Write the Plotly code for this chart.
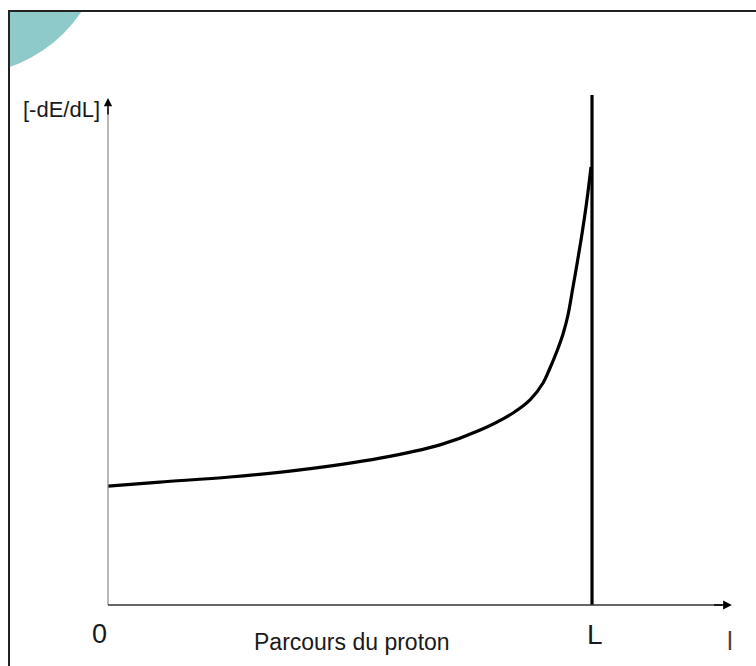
import plotly.graph_objects as go

# ---- data: Bragg curve (x in units of the range L, y = relative stopping power)
x_dist = [0.0, 0.107, 0.252, 0.397, 0.562, 0.686, 0.769, 0.8368, 0.8719, 0.8988,
          0.9132, 0.9277, 0.9401, 0.9504, 0.9607, 0.9690, 0.9773, 0.9855, 0.9917, 0.9979]
y_loss = [0.233, 0.241, 0.251, 0.265, 0.288, 0.314, 0.343, 0.3765, 0.4020, 0.4353,
          0.4647, 0.4980, 0.5314, 0.5686, 0.6235, 0.6686, 0.7157, 0.7667, 0.8098, 0.8588]

L_pos = 1.0          # position of the range L on the x axis
L_line_top = 1.0     # height of the vertical line at L
x_axis_end = 1.289   # tip of the x-axis arrow
y_axis_end = 0.994   # tip of the y-axis arrow

y_label = "[-dE/dL]"
x_label = "Parcours du proton"
origin_label = "0"
L_label = "L"
end_label = "l"

W, H = 756, 666
x_range = [-0.2231, 1.3388]
y_range = [-0.1196, 1.1863]

FONT = "Liberation Sans Narrow, Arial Narrow, Liberation Sans, Arial, sans-serif"
TXT = "#1a1a1a"

fig = go.Figure()

fig.add_trace(go.Scatter(x=x_dist, y=y_loss, mode="lines",
                         line=dict(color="black", width=3.2, shape="spline", smoothing=1.0),
                         hoverinfo="skip", showlegend=False))
fig.add_trace(go.Scatter(x=[L_pos, L_pos], y=[0, L_line_top], mode="lines",
                         line=dict(color="black", width=3.2),
                         hoverinfo="skip", showlegend=False))

def px(v):
    return v / W

def py(v):
    return 1 - v / H

shapes = [
    # teal circle in the corner
    dict(type="circle", xref="paper", yref="paper",
         x0=px(-174.3), x1=px(104.3), y0=py(74.3), y1=py(-204.3),
         fillcolor="#8fcaca", line=dict(width=0), layer="below"),
    # white covers outside the frame
    dict(type="rect", xref="paper", yref="paper", x0=-0.1, x1=px(9), y0=-0.1, y1=1.2,
         fillcolor="white", line=dict(width=0)),
    dict(type="rect", xref="paper", yref="paper", x0=-0.1, x1=1.1, y0=py(11), y1=1.2,
         fillcolor="white", line=dict(width=0)),
    # frame
    dict(type="line", xref="paper", yref="paper", x0=px(9), x1=px(9), y0=-0.01, y1=py(11),
         line=dict(color="#222", width=2)),
    dict(type="line", xref="paper", yref="paper", x0=px(8), x1=1.01, y0=py(11), y1=py(11),
         line=dict(color="#222", width=2)),
    # axes
    dict(type="line", xref="x", yref="y", x0=0, x1=0, y0=0, y1=y_axis_end - 0.02,
         line=dict(color="#8a8a8a", width=1.2)),
    dict(type="line", xref="x", yref="y", x0=0, x1=x_axis_end - 0.02, y0=0, y1=0,
         line=dict(color="#333", width=1.6)),
]

annotations = [
    dict(x=0, y=y_axis_end, ax=0, ay=y_axis_end - 0.035, xref="x", yref="y",
         axref="x", ayref="y", text="", showarrow=True, arrowhead=2, arrowsize=1.1,
         arrowwidth=1.5, arrowcolor="black"),
    dict(x=x_axis_end, y=0, ax=x_axis_end - 0.04, ay=0, xref="x", yref="y",
         axref="x", ayref="y", text="", showarrow=True, arrowhead=2, arrowsize=1.1,
         arrowwidth=1.6, arrowcolor="black"),
    dict(x=px(61), y=py(109), xref="paper", yref="paper", text=y_label, showarrow=False,
         font=dict(family=FONT, size=22, color=TXT), xanchor="center", yanchor="middle"),
    dict(x=px(99), y=py(634), xref="paper", yref="paper", text=origin_label, showarrow=False,
         font=dict(family=FONT, size=27, color=TXT), xanchor="center", yanchor="middle"),
    dict(x=px(352), y=py(642), xref="paper", yref="paper", text=x_label, showarrow=False,
         font=dict(family=FONT, size=23, color=TXT), xanchor="center", yanchor="middle"),
    dict(x=px(595), y=py(634), xref="paper", yref="paper", text=L_label, showarrow=False,
         font=dict(family=FONT, size=28, color=TXT), xanchor="center", yanchor="middle"),
    dict(x=px(730), y=py(641), xref="paper", yref="paper", text=end_label, showarrow=False,
         font=dict(family=FONT, size=26, color="#444"), xanchor="center", yanchor="middle"),
]

fig.update_layout(
    width=W, height=H, margin=dict(l=0, r=0, t=0, b=0),
    paper_bgcolor="white", plot_bgcolor="white",
    xaxis=dict(range=x_range, visible=False, fixedrange=True),
    yaxis=dict(range=y_range, visible=False, fixedrange=True),
    shapes=shapes, annotations=annotations, showlegend=False,
)

fig.write_html("out.html", config={"displayModeBar": False},
               post_script="document.body.style.margin='0px';document.body.style.overflow='hidden';")
